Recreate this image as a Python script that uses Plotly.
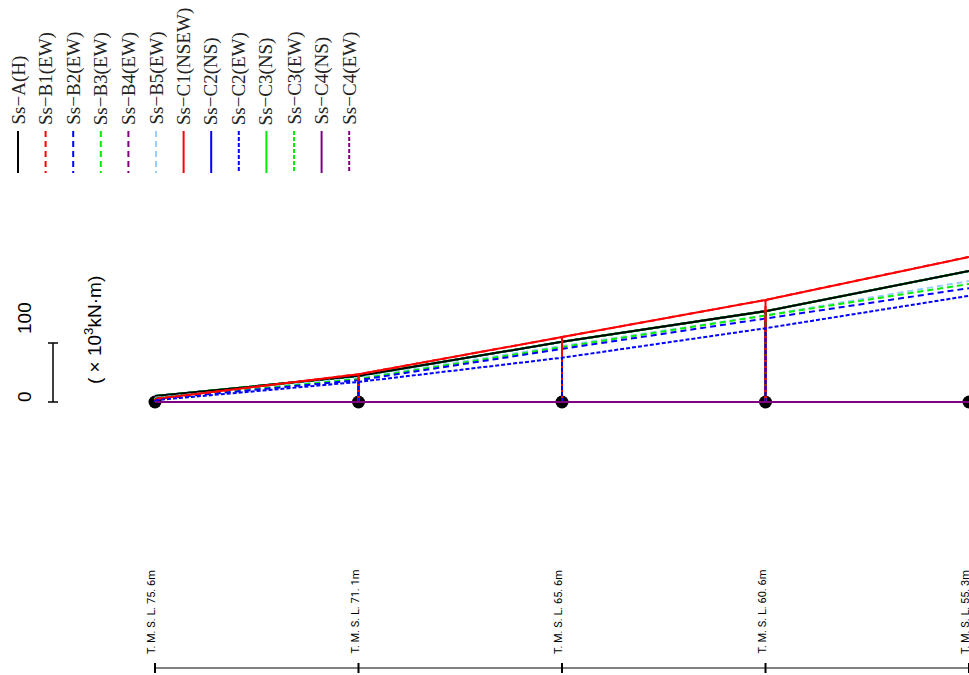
#%% IMPORTS

import plotly.graph_objects as go

#%% DATA

# Node elevations (equally spaced in the diagram)
node_labels = [
    "T. M. S. L. 75. 6m",
    "T. M. S. L. 71. 1m",
    "T. M. S. L. 65. 6m",
    "T. M. S. L. 60. 6m",
    "T. M. S. L. 55. 3m",
]
nodes = list(range(len(node_labels)))

# Bending moment at each node (x10^3 kN.m)
ss_a = [10, 44, 102, 154, 222]
ss_b1 = [5, 47, 110, 173, 246]
ss_b2 = [5, 37, 90, 142, 193]
ss_b3 = [6, 39, 93, 146, 200]
ss_b4 = [10, 44, 102, 154, 222]
ss_b5 = [7, 41, 95, 147, 205]
ss_c1 = [5, 47, 110, 173, 246]
ss_c2_ns = [10, 44, 102, 154, 222]
ss_c2_ew = [3, 34, 75, 125, 180]
ss_c3_ns = [10, 44, 102, 154, 222]
ss_c3_ew = [10, 44, 102, 154, 222]
ss_c4_ns = [0, 0, 0, 0, 0]
ss_c4_ew = [0, 0, 0, 0, 0]

scale_ticks = [0, 100]

#%% STYLE

W, H = 969, 675
BASE_PX = 402          # pixel row of zero moment
PX_PER_UNIT = 0.59     # 59 px per 100
X0_PX, DX_PX = 155, 203.5

DASH_B = '6px,4px'
DASH_C = '4px,2px'

# name, values, colour, dash  (legend order)
series = [
    ('Ss−A(H)', ss_a, 'black', 'solid'),
    ('Ss−B1(EW)', ss_b1, '#ff0000', DASH_B),
    ('Ss−B2(EW)', ss_b2, '#0000ff', DASH_B),
    ('Ss−B3(EW)', ss_b3, '#00ee00', DASH_B),
    ('Ss−B4(EW)', ss_b4, '#800080', DASH_B),
    ('Ss−B5(EW)', ss_b5, '#99ccff', DASH_B),
    ('Ss−C1(NSEW)', ss_c1, '#ff0000', 'solid'),
    ('Ss−C2(NS)', ss_c2_ns, '#0000ff', 'solid'),
    ('Ss−C2(EW)', ss_c2_ew, '#0000ff', DASH_C),
    ('Ss−C3(NS)', ss_c3_ns, '#00ee00', 'solid'),
    ('Ss−C3(EW)', ss_c3_ew, '#00ee00', DASH_C),
    ('Ss−C4(NS)', ss_c4_ns, '#800080', 'solid'),
    ('Ss−C4(EW)', ss_c4_ew, '#800080', DASH_C),
]
# drawing order (later on top)
draw_order = [
    'Ss−B4(EW)', 'Ss−C2(NS)', 'Ss−C3(NS)', 'Ss−C3(EW)', 'Ss−A(H)',
    'Ss−B5(EW)', 'Ss−B3(EW)', 'Ss−B2(EW)', 'Ss−B1(EW)', 'Ss−C1(NSEW)',
    'Ss−C2(EW)', 'Ss−C4(NS)', 'Ss−C4(EW)',
]

#%% FIGURE

fig = go.Figure()

# nodes
fig.add_trace(go.Scatter(
    x=nodes, y=[0] * len(nodes), mode='markers',
    marker=dict(color='black', size=13), cliponaxis=False,
    showlegend=False, hoverinfo='skip',
))

lookup = {s[0]: s for s in series}
for name in draw_order:
    _, vals, color, dash = lookup[name]
    xs, ys = list(nodes), list(vals)
    # verticals down to the base line (not at the cut-off last node)
    for i, v in zip(nodes[:-1], vals[:-1]):
        xs += [None, i, i]
        ys += [None, 0, v]
    fig.add_trace(go.Scatter(
        x=xs, y=ys, mode='lines', name=name,
        line=dict(color=color, width=2, dash=dash),
        showlegend=False, cliponaxis=False,
    ))

shapes = []
annotations = []

def py(px):
    return 1 - px / H

# legend (rotated)
for k, (name, _, color, dash) in enumerate(series):
    xc = (18 + k * 27.6) / W
    shapes.append(dict(
        type='line', xref='paper', yref='paper',
        x0=xc, x1=xc, y0=py(131), y1=py(173),
        line=dict(color=color, width=2, dash=dash),
    ))
    annotations.append(dict(
        x=xc, y=py(127), xref='paper', yref='paper',
        text=name, textangle=-90, showarrow=False,
        xanchor='center', yanchor='bottom',
        font=dict(family='Liberation Serif, DejaVu Serif, serif', size=19,
                  color='#222222'),
    ))

# scale bar
sx = 53 / W
shapes.append(dict(type='line', xref='paper', yref='y', x0=sx, x1=sx,
                   y0=scale_ticks[0], y1=scale_ticks[-1],
                   line=dict(color='black', width=1.5)))
for t, off in zip(scale_ticks, [5, 25]):
    shapes.append(dict(type='line', xref='paper', yref='y',
                       x0=sx - 5 / W, x1=sx + 5 / W, y0=t, y1=t,
                       line=dict(color='black', width=1.5)))
    annotations.append(dict(
        x=24 / W, y=t + off / PX_PER_UNIT,
        xref='paper', yref='y', text=str(t), textangle=-90,
        showarrow=False, xanchor='center', yanchor='middle',
        font=dict(family='Liberation Sans, Arial', size=19, color='black'),
    ))
annotations.append(dict(
    x=93 / W, y=(BASE_PX - 330) / PX_PER_UNIT, xref='paper', yref='y',
    text='( × 10<sup>3</sup>kN·m)', textangle=-90, showarrow=False,
    xanchor='center', yanchor='middle',
    font=dict(family='Liberation Sans, Arial', size=19, color='black'),
))

# elevation axis
shapes.append(dict(type='line', xref='x', yref='paper',
                   x0=nodes[0], x1=nodes[-1] + 1, y0=py(668), y1=py(668),
                   line=dict(color='#808080', width=2)))
for n, lab in zip(nodes, node_labels):
    shapes.append(dict(type='line', xref='x', yref='paper', x0=n, x1=n,
                       y0=py(663), y1=py(673),
                       line=dict(color='black', width=2)))
    annotations.append(dict(
        x=n, y=py(656), xref='x', yref='paper', text=lab, textangle=-90,
        showarrow=False, xanchor='center', yanchor='bottom', xshift=-4,
        font=dict(family='Roboto, Liberation Sans, Arial',
                  size=11, color='black'),
    ))

x_lo = -X0_PX / DX_PX
x_hi = x_lo + W / DX_PX
y_hi = BASE_PX / PX_PER_UNIT
y_lo = -(H - BASE_PX) / PX_PER_UNIT

fig.update_layout(
    width=W, height=H,
    margin=dict(l=0, r=0, t=0, b=0),
    template='plotly_white',
    plot_bgcolor='white', paper_bgcolor='white',
    xaxis=dict(range=[x_lo, x_hi], visible=False, fixedrange=True),
    yaxis=dict(range=[y_lo, y_hi], visible=False, fixedrange=True),
    shapes=shapes, annotations=annotations,
    showlegend=False,
)

fig.write_html(
    "out.html",
    config={'displayModeBar': False},
    post_script="document.body.style.margin='0';",
)
